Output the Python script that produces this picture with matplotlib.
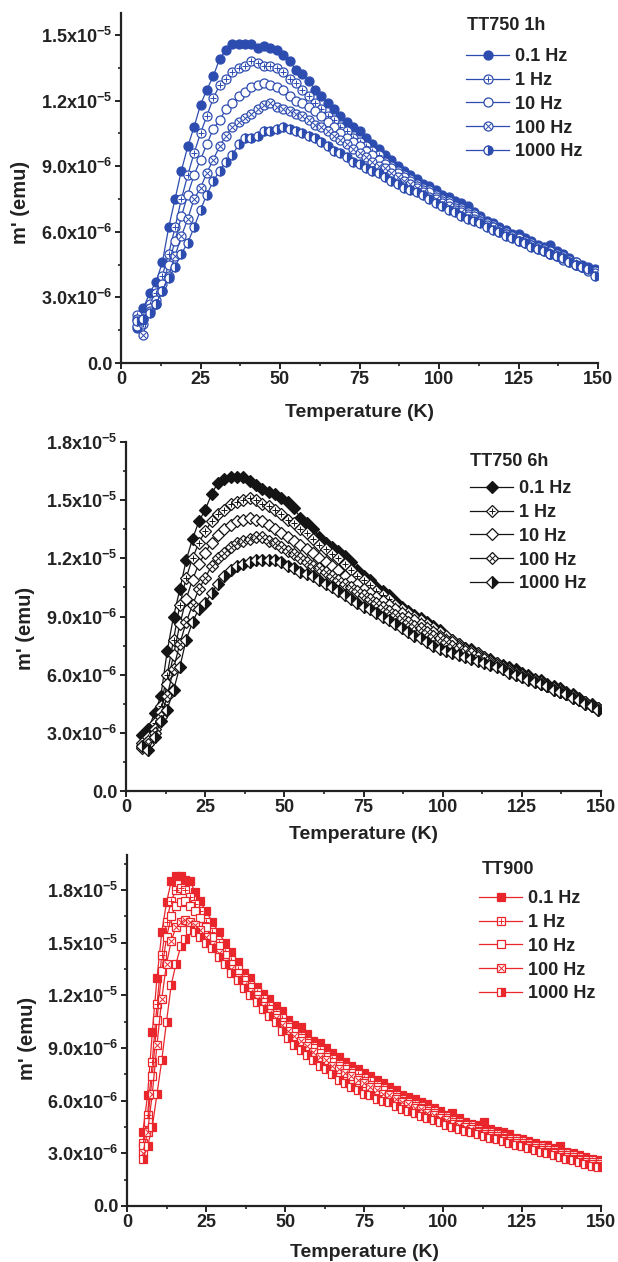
import numpy as np
import matplotlib
matplotlib.use("Agg")
import matplotlib.pyplot as plt
from matplotlib.lines import Line2D
from matplotlib.ticker import FixedLocator, MultipleLocator

# ---------------- data (values in units of 1e-6 emu) ----------------
freq_labels = ["0.1 Hz", "1 Hz", "10 Hz", "100 Hz", "1000 Hz"]

T_750 = [5, 7, 9, 11, 13, 15, 17, 19, 21, 23, 25, 27, 29, 31, 33, 35, 37, 39, 41, 43,
         45, 47, 49, 51, 53, 55, 57, 59, 61, 63, 65, 67, 69, 71, 73, 75, 77, 79, 81, 83,
         85, 87, 89, 91, 93, 95, 97, 99, 101, 103, 105, 107, 109, 111, 113, 115, 117, 119,
         121, 123, 125, 127, 129, 131, 133, 135, 137, 139, 141, 143, 145, 147, 149]

# TT750 1h
m1h_01 = [1.6, 2.5, 3.2, 3.7, 4.6, 6.2, 7.5, 8.8, 9.9, 10.8, 11.8, 12.5, 13.1, 13.9, 14.3, 14.6, 14.6, 14.6, 14.6, 14.4,
          14.5, 14.4, 14.3, 14.1, 13.8, 13.4, 13.2, 12.9, 12.5, 12.2, 11.9, 11.6, 11.3, 11.0, 10.8, 10.6, 10.3, 10.0, 9.8, 9.5,
          9.3, 9.0, 8.8, 8.6, 8.4, 8.2, 8.1, 7.9, 7.7, 7.6, 7.4, 7.3, 7.2, 6.9, 6.7, 6.5, 6.4, 6.2,
          6.1, 5.9, 5.9, 5.7, 5.6, 5.4, 5.3, 5.4, 5.1, 5.0, 4.8, 4.6, 4.5, 4.4, 4.3]
m1h_1 = [2.2, 1.8, 2.7, 3.2, 4.0, 5.0, 6.2, 7.5, 8.6, 9.6, 10.5, 11.3, 12.1, 12.7, 13.0, 13.3, 13.5, 13.6, 13.8, 13.7,
         13.6, 13.6, 13.5, 13.3, 13.0, 12.8, 12.5, 12.2, 11.9, 11.6, 11.3, 11.1, 10.8, 10.6, 10.3, 10.1, 9.9, 9.7, 9.5, 9.2,
         9.0, 8.8, 8.6, 8.4, 8.2, 8.0, 7.9, 7.7, 7.5, 7.4, 7.2, 7.1, 6.9, 6.8, 6.6, 6.4, 6.3, 6.1,
         6.0, 5.8, 5.7, 5.6, 5.5, 5.3, 5.2, 5.1, 5.0, 4.9, 4.7, 4.6, 4.4, 4.3, 4.1]
m1h_10 = [1.7, 2.0, 2.5, 2.9, 3.6, 4.5, 5.6, 6.7, 7.7, 8.6, 9.3, 10.0, 10.7, 11.1, 11.6, 11.9, 12.2, 12.4, 12.6, 12.7,
          12.8, 12.7, 12.6, 12.5, 12.2, 12.0, 11.9, 11.7, 11.5, 11.3, 11.0, 10.8, 10.5, 10.3, 10.1, 9.9, 9.7, 9.5, 9.3, 9.1,
          8.9, 8.7, 8.5, 8.3, 8.1, 7.9, 7.8, 7.6, 7.4, 7.3, 7.1, 7.0, 6.8, 6.7, 6.5, 6.4, 6.2, 6.1,
          5.9, 5.8, 5.7, 5.6, 5.4, 5.3, 5.2, 5.0, 4.9, 4.8, 4.7, 4.5, 4.4, 4.3, 4.2]
m1h_100 = [2.0, 1.3, 2.4, 2.7, 3.3, 4.0, 4.9, 5.8, 6.6, 7.5, 8.0, 8.7, 9.3, 9.9, 10.4, 10.8, 11.0, 11.2, 11.4, 11.6,
           11.8, 11.9, 11.7, 11.6, 11.5, 11.4, 11.3, 11.1, 10.9, 10.8, 10.6, 10.4, 10.2, 10.0, 9.8, 9.6, 9.4, 9.2, 9.0, 8.9,
           8.7, 8.5, 8.3, 8.2, 8.0, 7.8, 7.6, 7.5, 7.3, 7.2, 7.0, 6.9, 6.7, 6.6, 6.5, 6.3, 6.2, 6.0,
           5.9, 5.8, 5.6, 5.5, 5.4, 5.2, 5.1, 5.0, 4.9, 4.7, 4.6, 4.5, 4.4, 4.2, 4.1]
m1h_1000 = [1.9, 2.0, 2.3, 2.7, 3.3, 3.9, 4.4, 5.0, 5.5, 6.2, 7.0, 7.7, 8.3, 8.8, 9.2, 9.5, 10.0, 10.3, 10.3, 10.4,
            10.6, 10.6, 10.7, 10.8, 10.7, 10.6, 10.5, 10.4, 10.3, 10.1, 9.9, 9.7, 9.6, 9.4, 9.2, 9.1, 8.9, 8.8, 8.7, 8.5,
            8.3, 8.2, 8.0, 7.9, 7.8, 7.7, 7.5, 7.3, 7.2, 7.0, 6.9, 6.7, 6.6, 6.5, 6.4, 6.2, 6.1, 6.0,
            5.8, 5.7, 5.6, 5.5, 5.3, 5.2, 5.1, 5.0, 4.9, 4.8, 4.6, 4.5, 4.4, 4.3, 4.0]

# TT750 6h
m6h_01 = [2.9, 3.2, 4.0, 4.9, 7.2, 9.0, 10.4, 11.9, 13.0, 13.9, 14.5, 15.3, 15.9, 16.1, 16.2, 16.2, 16.2, 16.0, 15.8, 15.6,
          15.4, 15.3, 15.1, 14.9, 14.6, 14.1, 13.8, 13.5, 13.1, 12.8, 12.6, 12.4, 12.1, 11.8, 11.4, 11.1, 10.9, 10.5, 10.3, 10.1,
          9.8, 9.5, 9.3, 9.1, 8.9, 8.7, 8.5, 8.3, 8.0, 7.8, 7.6, 7.4, 7.3, 7.1, 6.9, 6.8, 6.6, 6.5,
          6.4, 6.3, 6.1, 6.0, 5.8, 5.7, 5.5, 5.4, 5.3, 5.1, 5.0, 4.8, 4.6, 4.5, 4.3]
m6h_1 = [2.5, 2.8, 3.5, 4.4, 6.0, 7.8, 9.6, 11.0, 12.0, 12.8, 13.4, 13.9, 14.3, 14.5, 14.8, 14.9, 15.0, 15.1, 15.0, 14.8,
         14.7, 14.5, 14.3, 14.0, 13.8, 13.5, 13.3, 13.0, 12.7, 12.5, 12.2, 12.0, 11.7, 11.4, 11.1, 10.9, 10.6, 10.3, 10.1, 9.9,
         9.6, 9.4, 9.2, 9.0, 8.8, 8.6, 8.4, 8.2, 8.0, 7.8, 7.6, 7.4, 7.2, 7.1, 6.9, 6.7, 6.6, 6.4,
         6.3, 6.1, 6.0, 5.9, 5.7, 5.6, 5.4, 5.3, 5.2, 5.0, 4.9, 4.7, 4.6, 4.4, 4.3]
m6h_10 = [2.3, 2.6, 3.2, 4.1, 5.5, 7.0, 8.6, 9.9, 10.9, 11.7, 12.3, 12.8, 13.2, 13.5, 13.7, 13.9, 14.0, 14.1, 14.0, 13.9,
          13.7, 13.5, 13.3, 13.1, 12.9, 12.7, 12.5, 12.3, 12.0, 11.8, 11.6, 11.4, 11.1, 10.9, 10.7, 10.4, 10.2, 10.0, 9.8, 9.6,
          9.4, 9.2, 9.0, 8.8, 8.6, 8.4, 8.2, 8.0, 7.8, 7.7, 7.5, 7.3, 7.2, 7.0, 6.8, 6.7, 6.5, 6.4,
          6.2, 6.1, 6.0, 5.8, 5.7, 5.5, 5.4, 5.3, 5.1, 5.0, 4.9, 4.7, 4.6, 4.4, 4.3]
m6h_100 = [2.2, 2.4, 3.0, 3.8, 4.9, 6.3, 7.6, 8.7, 9.6, 10.4, 11.0, 11.6, 12.0, 12.3, 12.6, 12.8, 12.9, 13.0, 13.1, 13.1,
           12.9, 12.8, 12.6, 12.4, 12.2, 12.0, 11.8, 11.6, 11.5, 11.3, 11.1, 10.9, 10.7, 10.5, 10.3, 10.1, 9.9, 9.7, 9.5, 9.3,
           9.1, 8.9, 8.7, 8.5, 8.4, 8.2, 8.0, 7.9, 7.7, 7.5, 7.4, 7.2, 7.1, 6.9, 6.8, 6.6, 6.5, 6.3,
           6.2, 6.0, 5.9, 5.8, 5.6, 5.5, 5.4, 5.2, 5.1, 5.0, 4.8, 4.7, 4.5, 4.4, 4.2]
m6h_1000 = [2.3, 2.1, 2.8, 3.6, 4.2, 5.2, 6.4, 7.8, 8.7, 9.4, 9.7, 10.2, 10.7, 11.1, 11.4, 11.6, 11.7, 11.8, 11.9, 11.9,
            11.9, 11.9, 11.8, 11.6, 11.5, 11.3, 11.2, 11.1, 10.9, 10.7, 10.5, 10.3, 10.1, 9.9, 9.7, 9.5, 9.4, 9.2, 9.0, 8.8,
            8.6, 8.4, 8.2, 8.0, 7.9, 7.7, 7.5, 7.3, 7.2, 7.1, 7.0, 6.9, 6.8, 6.7, 6.6, 6.5, 6.4, 6.3,
            6.1, 6.0, 5.9, 5.7, 5.6, 5.5, 5.4, 5.2, 5.1, 5.0, 4.8, 4.7, 4.5, 4.4, 4.2]

# TT900
T_900 = [5, 6.5, 8, 9.5, 11, 12.5, 14, 15.5, 17, 18.5, 20, 21.5, 23, 25, 27, 29, 31, 33, 35, 37,
         39, 41, 43, 45, 47, 49, 51, 53, 55, 57, 59, 61, 63, 65, 67, 69, 71, 73, 75, 77,
         79, 81, 83, 85, 87, 89, 91, 93, 95, 97, 99, 101, 103, 105, 107, 109, 111, 113, 115, 117,
         119, 121, 123, 125, 127, 129, 131, 133, 135, 137, 139, 141, 143, 145, 147, 149]
m900_01 = [4.2, 6.3, 9.9, 13.0, 15.6, 17.3, 18.5, 18.8, 18.8, 18.6, 18.5, 17.9, 17.4, 16.8, 16.2, 15.6, 15.0, 14.5, 13.9, 13.3,
           13.0, 12.5, 12.1, 11.8, 11.4, 11.1, 10.6, 10.3, 10.2, 9.8, 9.4, 9.3, 9.0, 8.7, 8.5, 8.2, 8.0, 7.8, 7.6, 7.4,
           7.2, 7.0, 6.8, 6.6, 6.3, 6.2, 6.1, 5.9, 5.8, 5.6, 5.4, 5.2, 5.3, 5.0, 4.8, 4.7, 4.6, 4.8, 4.4, 4.3,
           4.2, 4.1, 3.9, 3.8, 3.7, 3.6, 3.5, 3.5, 3.3, 3.4, 3.1, 3.0, 2.9, 2.8, 2.7, 2.6]
m900_1 = [3.6, 5.2, 8.2, 11.5, 14.3, 16.2, 17.4, 18.0, 18.1, 18.0, 17.6, 17.2, 16.8, 16.2, 15.6, 15.0, 14.5, 14.0, 13.5, 13.0,
          12.6, 12.2, 11.8, 11.4, 11.0, 10.7, 10.3, 10.0, 9.7, 9.4, 9.1, 8.9, 8.6, 8.4, 8.1, 7.9, 7.7, 7.5, 7.3, 7.1,
          6.9, 6.7, 6.5, 6.3, 6.1, 6.0, 5.8, 5.7, 5.5, 5.4, 5.2, 5.1, 4.9, 4.8, 4.7, 4.6, 4.4, 4.3, 4.2, 4.1,
          4.0, 3.9, 3.8, 3.7, 3.6, 3.5, 3.4, 3.3, 3.2, 3.1, 3.0, 2.9, 2.8, 2.7, 2.6, 2.5]
m900_10 = [3.4, 4.8, 7.4, 10.6, 13.4, 15.3, 16.5, 17.1, 17.3, 17.4, 17.1, 16.8, 16.4, 15.9, 15.3, 14.8, 14.3, 13.8, 13.3, 12.9,
           12.5, 12.0, 11.6, 11.2, 10.9, 10.5, 10.2, 9.9, 9.6, 9.3, 9.0, 8.7, 8.5, 8.2, 8.0, 7.8, 7.6, 7.3, 7.1, 6.9,
           6.8, 6.6, 6.4, 6.2, 6.0, 5.9, 5.7, 5.6, 5.4, 5.3, 5.1, 5.0, 4.8, 4.7, 4.6, 4.5, 4.3, 4.2, 4.1, 4.0,
           3.9, 3.8, 3.7, 3.6, 3.5, 3.4, 3.3, 3.2, 3.1, 3.0, 2.9, 2.8, 2.7, 2.6, 2.5, 2.4]
m900_100 = [3.0, 4.2, 6.4, 9.2, 11.8, 13.8, 15.1, 15.9, 16.2, 16.3, 16.2, 16.0, 15.7, 15.3, 14.9, 14.4, 13.9, 13.5, 13.0, 12.6,
            12.2, 11.8, 11.4, 11.0, 10.7, 10.3, 10.0, 9.7, 9.4, 9.1, 8.8, 8.5, 8.3, 8.0, 7.8, 7.6, 7.4, 7.2, 7.0, 6.8,
            6.6, 6.4, 6.3, 6.1, 5.9, 5.8, 5.6, 5.5, 5.3, 5.2, 5.0, 4.9, 4.7, 4.6, 4.5, 4.4, 4.2, 4.1, 4.0, 3.9,
            3.8, 3.7, 3.6, 3.5, 3.4, 3.3, 3.2, 3.1, 3.0, 2.9, 2.8, 2.7, 2.6, 2.5, 2.4, 2.3]
m900_1000 = [2.7, 3.4, 4.5, 6.4, 8.3, 10.5, 12.6, 13.8, 14.8, 15.2, 15.7, 15.6, 15.3, 15.0, 14.7, 14.2, 13.8, 13.3, 12.9, 12.4,
             12.0, 11.6, 11.2, 10.8, 10.5, 10.0, 9.6, 9.2, 8.9, 8.6, 8.3, 8.0, 7.8, 7.5, 7.2, 7.0, 6.8, 6.6, 6.4, 6.3,
             6.1, 6.0, 5.9, 5.7, 5.5, 5.4, 5.3, 5.1, 5.0, 4.9, 4.8, 4.6, 4.5, 4.4, 4.3, 4.2, 4.1, 4.0, 3.9, 3.8,
             3.7, 3.6, 3.5, 3.4, 3.3, 3.2, 3.1, 3.0, 2.9, 2.8, 2.7, 2.6, 2.5, 2.4, 2.3, 2.2]

x_ticks = [0, 25, 50, 75, 100, 125, 150]
y_ticks = [0.0, 3.0e-6, 6.0e-6, 9.0e-6, 1.2e-5, 1.5e-5, 1.8e-5]
y_ticklabels = ["0.0", "3.0x10$^{-6}$", "6.0x10$^{-6}$", "9.0x10$^{-6}$",
                "1.2x10$^{-5}$", "1.5x10$^{-5}$", "1.8x10$^{-5}$"]

# ---------------- style ----------------
plt.rcParams.update({
    "font.family": ["Liberation Sans", "DejaVu Sans"],
    "font.weight": "bold",
    "axes.labelweight": "bold",
    "mathtext.fontset": "custom",
    "mathtext.rm": "Liberation Sans:bold",
    "mathtext.it": "Liberation Sans:bold",
    "mathtext.bf": "Liberation Sans:bold",
    "mathtext.default": "rm",
})

BLUE = "#2d4cb0"
BLACK = "#141414"
RED = "#e8262c"

fig = plt.figure(figsize=(6.18, 12.62), dpi=100)
W, H = 618.0, 1262.0


def rect(l, r, t, b):
    return [l / W, 1 - b / H, (r - l) / W, (b - t) / H]


panels = [
    dict(rect=rect(121, 598, 13, 363), ymax=1.6e-5, nt=6, T=T_750,
         series=[m1h_01, m1h_1, m1h_10, m1h_100, m1h_1000], color=BLUE, marker="o", ms=6.5,
         title="TT750 1h", title_xy=(467, 25), leg=(466, 48), ylab=(-0.19, 0.46), xlab=-0.117),
    dict(rect=rect(126, 601, 442, 791), ymax=1.8e-5, nt=7, T=T_750,
         series=[m6h_01, m6h_1, m6h_10, m6h_100, m6h_1000], color=BLACK, marker="D", ms=5.8,
         title="TT750 6h", title_xy=(470, 462), leg=(470, 480), ylab=(-0.192, 0.467), xlab=-0.10),
    dict(rect=rect(127, 601, 855, 1206), ymax=2.0e-5, nt=7, T=T_900,
         series=[m900_01, m900_1, m900_10, m900_100, m900_1000], color=RED, marker="s", ms=5.8,
         title="TT900", title_xy=(482, 870), leg=(479, 890), ylab=(-0.19, 0.476), xlab=-0.108),
]

inner_marks = [None, "+", None, "x", None]

for p in panels:
    ax = fig.add_axes(p["rect"])
    c = p["color"]
    handles = []
    for i, vals in enumerate(p["series"]):
        y = np.array(vals) * 1e-6
        kw = dict(color=c, lw=0.9, marker=p["marker"], ms=p["ms"], mec=c, mew=0.9)
        if i == 0:
            kw.update(mfc=c)
        elif i == 4:
            kw.update(mfc=c, mfcalt="white", fillstyle="right")
        else:
            kw.update(mfc="white")
        line, = ax.plot(p["T"], y, **kw)
        if inner_marks[i] is not None:
            ax.plot(p["T"], y, ls="none", marker=inner_marks[i], ms=p["ms"] * 0.75,
                    mec=c, mew=0.7, color=c)
            over = Line2D([], [], ls="none", marker=inner_marks[i], ms=p["ms"] * 0.75,
                          mec=c, mew=0.7, color=c)
            handles.append((line, over))
        else:
            handles.append(line)

    ax.set_xlim(0, 150)
    ax.set_ylim(0, p["ymax"])
    for s in ("top", "right"):
        ax.spines[s].set_visible(False)
    for s in ("left", "bottom"):
        ax.spines[s].set_linewidth(1.6)
        ax.spines[s].set_color("#222222")
    ax.xaxis.set_major_locator(FixedLocator(x_ticks))
    ax.xaxis.set_minor_locator(MultipleLocator(12.5))
    ax.yaxis.set_major_locator(FixedLocator(y_ticks[:p["nt"]]))
    ax.set_yticklabels(y_ticklabels[:p["nt"]])
    ax.yaxis.set_minor_locator(MultipleLocator(1.5e-6))
    ax.tick_params(which="major", direction="out", length=4, width=1.4, labelsize=13, pad=2,
                   color="#222222", labelcolor="#222222")
    ax.tick_params(which="minor", direction="out", length=2.5, width=1.2, color="#222222")
    for lab in ax.get_xticklabels() + ax.get_yticklabels():
        lab.set_fontweight("bold")

    ax.set_ylabel("m' (emu)", fontsize=14.5, fontweight="bold", color="#222222")
    ax.yaxis.set_label_coords(*p["ylab"])
    ax.set_xlabel("Temperature (K)", fontsize=14, fontweight="bold", color="#222222")
    ax.xaxis.set_label_coords(0.5, p["xlab"])

    tx, ty = p["title_xy"]
    fig.text(tx / W, 1 - ty / H, p["title"], fontsize=13, fontweight="bold",
             ha="left", va="center", color="#222222")

    lx, ly = p["leg"]
    leg = ax.legend(handles, freq_labels, loc="upper left",
                    bbox_to_anchor=(lx / W, 1 - ly / H), bbox_transform=fig.transFigure,
                    frameon=False, fontsize=13,
                    handlelength=2.4, handletextpad=0.3, labelspacing=0.38,
                    borderpad=0, borderaxespad=0)
    for t in leg.get_texts():
        t.set_fontweight("bold")
        t.set_color("#222222")

fig.savefig("out.png", dpi=100)
